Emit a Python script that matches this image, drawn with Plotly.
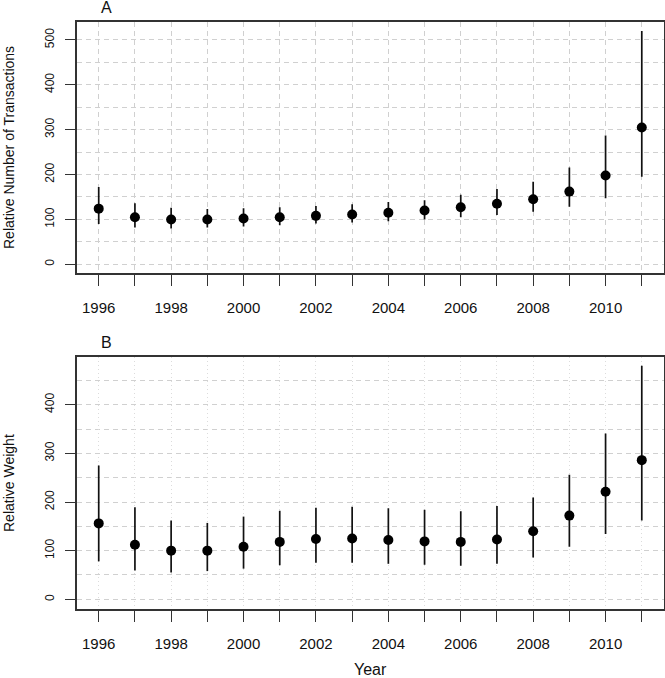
import plotly.graph_objects as go

years = list(range(1996, 2012))

# Panel A: Relative Number of Transactions
trans_mid = [124, 105, 100, 100, 102, 105, 108, 111, 115, 120, 127, 135, 145, 162, 198, 305]
trans_hi = [172, 136, 126, 123, 125, 127, 130, 134, 139, 143, 155, 168, 184, 216, 287, 520]
trans_lo = [90, 82, 80, 82, 84, 87, 91, 93, 96, 100, 105, 110, 117, 128, 147, 195]

# Panel B: Relative Weight
weight_mid = [156, 112, 100, 100, 108, 118, 124, 125, 122, 119, 118, 123, 140, 172, 221, 286]
weight_hi = [275, 189, 162, 157, 170, 182, 188, 190, 187, 184, 181, 192, 209, 256, 341, 480]
weight_lo = [78, 59, 55, 58, 63, 70, 75, 75, 73, 71, 69, 73, 86, 108, 134, 162]

tick_text = [str(y) if y % 2 == 0 else "" for y in years]

FONT = "Liberation Sans, Arial, sans-serif"
W, H = 665, 678


def px(x):
    return x / W


def py(y):
    return 1 - y / H


fig = go.Figure()


def add_panel(mid, hi, lo, xa, ya):
    fig.add_trace(go.Scatter(
        x=years, y=mid, mode="markers",
        marker=dict(color="black", size=10),
        error_y=dict(type="data", symmetric=False,
                     array=[h - m for h, m in zip(hi, mid)],
                     arrayminus=[m - l for m, l in zip(mid, lo)],
                     width=0, thickness=1.7, color="#111"),
        xaxis=xa, yaxis=ya, showlegend=False, hoverinfo="skip",
    ))


add_panel(trans_mid, trans_hi, trans_lo, "x", "y")
add_panel(weight_mid, weight_hi, weight_lo, "x2", "y2")

xdom = [px(77), px(663.5)]
common_x = dict(
    range=[1995.4, 2011.6], tickmode="array", tickvals=years, ticktext=tick_text,
    ticks="outside", ticklen=11, tickwidth=1.3, tickcolor="#333",
    showline=True, mirror=True, linecolor="#333", linewidth=1.5,
    showgrid=True, gridcolor="#d0d0d0", gridwidth=1,
    zeroline=False, tickfont=dict(family=FONT, size=15, color="#111"),
    ticklabelstandoff=9, domain=xdom, automargin=False,
)
common_y = dict(
    ticks="outside", ticklen=10, tickwidth=1.3, tickcolor="#333",
    showline=True, mirror=True, linecolor="#333", linewidth=1.5,
    showgrid=True, gridcolor="#d0d0d0", gridwidth=1, griddash="5px,4px",
    zeroline=False, tickangle=-90, dtick=100, tick0=0,
    tickfont=dict(family=FONT, size=12, color="#111"),
    minor=dict(dtick=50, tick0=0, showgrid=True, gridcolor="#d0d0d0",
               griddash="5px,4px", ticks=""),
    ticklabelstandoff=6, automargin=False,
)

fig.update_layout(
    width=W, height=H, margin=dict(l=0, r=0, t=0, b=0),
    paper_bgcolor="white", plot_bgcolor="white",
    xaxis=dict(common_x, anchor="y", griddash="5px,4px"),
    yaxis=dict(common_y, anchor="x", range=[-19.4, 540],
               domain=[py(273), py(22)]),
    xaxis2=dict(common_x, anchor="y2", griddash="1px,3px", gridcolor="#dcdcdc"),
    yaxis2=dict(common_y, anchor="x2", range=[-19.9, 498.6],
                domain=[py(609), py(356.7)]),
    font=dict(family=FONT, color="#111"),
)

ann = [
    dict(text="A", x=106, y=8, size=16),
    dict(text="B", x=106, y=342, size=16),
    dict(text="Year", x=370, y=669, size=16),
    dict(text="Relative Number of Transactions", x=9, y=148, size=14, angle=-90),
    dict(text="Relative Weight", x=9, y=483, size=14, angle=-90),
]
for a in ann:
    fig.add_annotation(xref="paper", yref="paper", showarrow=False,
                       xanchor="center", yanchor="middle",
                       font=dict(family=FONT, color="#111", size=a["size"]),
                       text=a["text"], x=px(a["x"]), y=py(a["y"]),
                       textangle=a.get("angle", 0))

fig.write_html(
    "out.html",
    config={"displayModeBar": False},
    post_script="document.body.style.margin='0';document.body.style.padding='0';"
                "document.body.style.overflow='hidden';",
)
